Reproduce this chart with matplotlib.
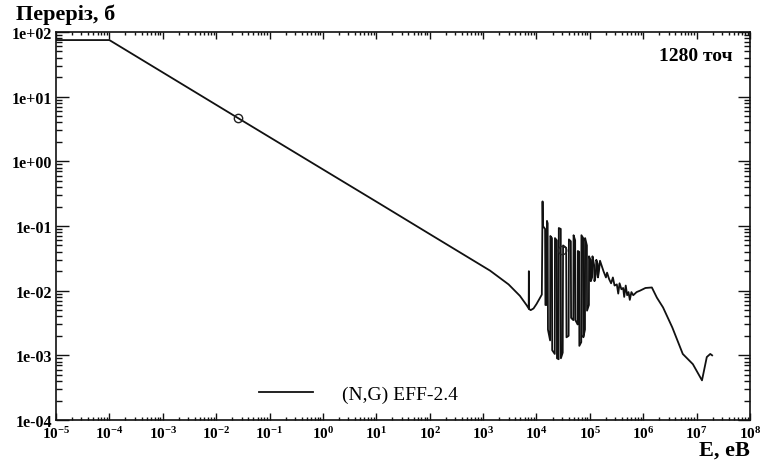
# Capture cross-section (N,G), EFF-2.4 — log-log plot of cross-section vs energy
import numpy as np
import matplotlib
matplotlib.use("Agg")
import matplotlib.pyplot as plt
from matplotlib.ticker import LogLocator, FuncFormatter, NullFormatter

plt.rcParams["font.family"] = ["Liberation Serif", "DejaVu Serif"]
plt.rcParams["mathtext.default"] = "regular"

# ─────────────────────────────────────────────
# Data
# ─────────────────────────────────────────────
# thermal / 1/v region
energy_low = [1e-5, 1e-4, 0.0253, 1.0, 11.7, 100, 1350, 3000, 4900, 6500, 7150]
sigma_low = [75, 75, 4.7, 0.75, 0.22, 0.075, 0.0204, 0.0125, 0.0083, 0.006, 0.0053]

# small resonance near 7 keV and the dip before 10 keV
energy_dip = [7200, 7250, 7800, 8800, 1.0e4, 1.15e4]
sigma_dip = [0.020, 0.0052, 0.0050, 0.0053, 0.0062, 0.0076]

# resolved resonance region 10 keV - 150 keV
energy_res = [1.26e4, 1.30e4, 1.32e4, 1.45e4, 1.47e4, 1.55e4, 1.57e4, 1.62e4,
              1.64e4, 1.80e4, 1.82e4, 1.95e4, 1.97e4, 2.20e4, 2.22e4, 2.40e4,
              2.42e4, 2.60e4, 2.62e4, 2.85e4, 2.87e4, 3.10e4, 3.15e4, 3.60e4,
              3.65e4, 4.00e4, 4.05e4, 4.40e4, 4.45e4, 4.90e4, 4.95e4, 5.30e4,
              5.35e4, 5.90e4, 5.95e4, 6.30e4, 6.35e4, 6.90e4, 6.95e4, 7.50e4,
              7.55e4, 8.10e4, 8.15e4, 8.80e4, 8.85e4, 9.60e4, 9.65e4, 1.03e5,
              1.04e5, 1.10e5, 1.12e5, 1.20e5, 1.22e5, 1.30e5, 1.32e5, 1.40e5,
              1.42e5, 1.48e5]
sigma_res = [0.0087, 0.24, 0.10, 0.09, 0.006, 0.006, 0.12, 0.11,
             0.0025, 0.0017, 0.07, 0.065, 0.0012, 0.00105, 0.065, 0.06,
             0.0009, 0.00087, 0.093, 0.09, 0.0009, 0.0011, 0.05, 0.046,
             0.0019, 0.002, 0.062, 0.058, 0.0038, 0.0035, 0.072, 0.06,
             0.0035, 0.003, 0.041, 0.04, 0.0014, 0.0016, 0.072, 0.065,
             0.0019, 0.0025, 0.065, 0.05, 0.0049, 0.006, 0.034, 0.03,
             0.014, 0.016, 0.034, 0.025, 0.014, 0.018, 0.030, 0.026,
             0.016, 0.020]

# unresolved region and fast neutrons
energy_fast = [1.55e5, 1.8e5, 2.0e5, 2.1e5, 2.3e5, 2.5e5, 2.7e5, 2.9e5, 3.2e5,
               3.4e5, 3.6e5, 3.9e5, 4.2e5, 4.4e5, 4.7e5, 5.0e5, 5.3e5, 5.6e5,
               6.0e5, 6.5e5, 7.5e5, 8.7e5, 1.1e6, 1.45e6, 1.8e6, 2.35e6,
               3.5e6, 5.5e6, 8.5e6, 1.26e7, 1.55e7, 1.8e7, 1.95e7]
sigma_fast = [0.029, 0.020, 0.016, 0.019, 0.015, 0.013, 0.016, 0.012, 0.0125,
              0.0090, 0.013, 0.0105, 0.011, 0.0080, 0.012, 0.0085, 0.0095, 0.0072,
              0.0095, 0.0085, 0.0095, 0.0100, 0.0110, 0.0112, 0.0078, 0.0055,
              0.0027, 0.00105, 0.00073, 0.00041, 0.00094, 0.00105, 0.0010]

# open circles on the curve
marker_e = [0.0253, 3.0e4]
marker_s = [4.7, 0.042]

energy = energy_low + energy_dip + energy_res + energy_fast
sigma = sigma_low + sigma_dip + sigma_res + sigma_fast

y_ticks = [1e-4, 1e-3, 1e-2, 1e-1, 1e0, 1e1, 1e2]
x_ticks = [10.0 ** k for k in range(-5, 9)]

# ─────────────────────────────────────────────
# Plot
# ─────────────────────────────────────────────
fig = plt.figure(figsize=(7.64, 4.64), dpi=100)
ax = fig.add_axes([0.0733, 0.0927, 0.9084, 0.8362])

ax.plot(energy, sigma, color="#111111", lw=1.3, label="(N,G) EFF-2.4")
ax.plot(marker_e, marker_s, ls="none", marker="o", ms=6, mfc="none",
        mec="#222222", mew=1.0, zorder=3)

ax.set_xscale("log")
ax.set_yscale("log")
ax.set_xlim(1e-5, 1e8)
ax.set_ylim(1e-4, 1e2)

ax.set_xticks(x_ticks)
ax.xaxis.set_major_formatter(
    FuncFormatter(lambda v, p: r"$10^{%d}$" % round(np.log10(v))))
ax.xaxis.set_minor_locator(LogLocator(base=10, subs=np.arange(2, 10), numticks=50))
ax.xaxis.set_minor_formatter(NullFormatter())

ax.set_yticks(y_ticks)
ax.yaxis.set_major_formatter(FuncFormatter(lambda v, p: "%.0e" % v))
ax.yaxis.set_minor_locator(LogLocator(base=10, subs=np.arange(2, 10), numticks=50))
ax.yaxis.set_minor_formatter(NullFormatter())

ax.tick_params(axis="both", which="both", direction="in", top=True, right=True,
               color="#111111", width=1.0)
ax.tick_params(axis="x", which="major", length=5, pad=4, labelsize=11)
ax.tick_params(axis="x", which="minor", length=2.5)
ax.tick_params(axis="y", which="major", length=9, pad=3, labelsize=11.5)
ax.tick_params(axis="y", which="minor", length=4.5)
for lab in ax.get_xticklabels() + ax.get_yticklabels():
    lab.set_fontweight("bold")

for s in ax.spines.values():
    s.set_linewidth(1.2)
    s.set_color("#111111")

# labels
fig.text(0.021, 0.968, "Переріз, б", fontsize=16, fontweight="bold",
         ha="left", va="center")
fig.text(0.982, 0.028, "E, eB", fontsize=16, fontweight="bold",
         ha="right", va="center")
ax.text(0.975, 0.94, "1280 точ", transform=ax.transAxes, fontsize=14,
        fontweight="bold", ha="right", va="center")

ax.legend(loc="center left", bbox_to_anchor=(0.292, 0.067), frameon=False,
          fontsize=14, handlelength=2.8, handletextpad=1.5,
          borderpad=0, borderaxespad=0)

fig.savefig("out.png", dpi=100)
plt.close(fig)
